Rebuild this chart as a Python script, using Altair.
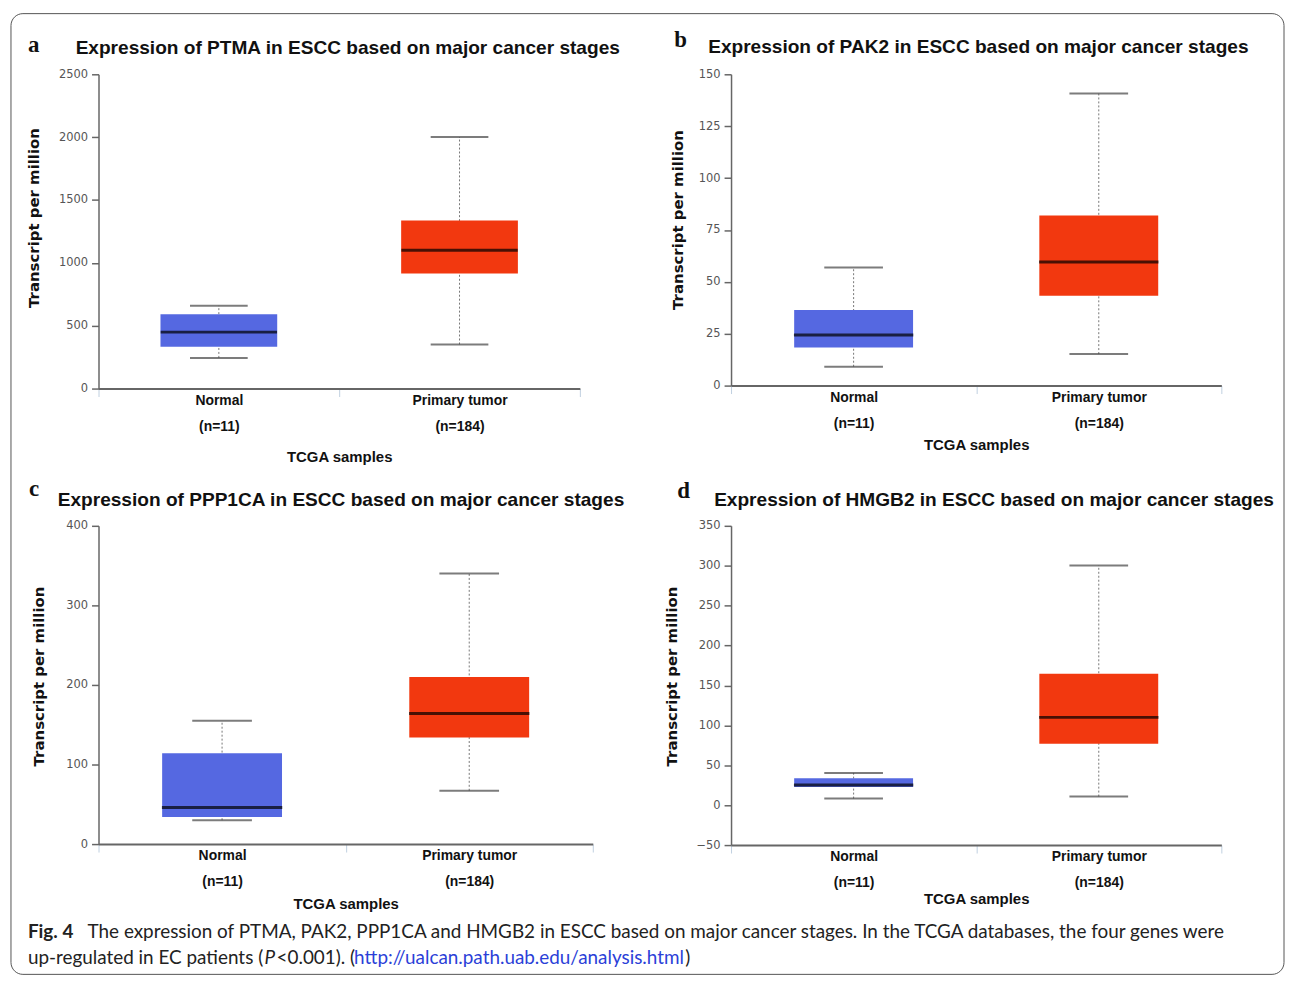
import altair as alt
import pandas as pd

# ---------------- data ----------------
genes = ["PTMA", "PAK2", "PPP1CA", "HMGB2"]
letters = ["a", "b", "c", "d"]
groups = ["Normal", "Primary tumor"]
n_samples = [11, 184]
# [lower whisker, q1, median, q3, upper whisker]
ptma_normal = [244, 333, 449, 591, 659]
ptma_tumor = [351, 916, 1100, 1336, 2001]
pak2_normal = [9.1, 18.3, 24.4, 36.4, 56.9]
pak2_tumor = [15.2, 43.3, 59.6, 81.9, 140.7]
ppp1ca_normal = [30, 34, 46, 114, 155]
ppp1ca_tumor = [67, 134, 164, 210, 340]
hmgb2_normal = [8.3, 22.9, 25.4, 33.6, 40.4]
hmgb2_tumor = [10.8, 76.9, 110, 164.5, 300.3]
y_ticks_ptma = [0, 500, 1000, 1500, 2000, 2500]
y_ticks_pak2 = [0, 25, 50, 75, 100, 125, 150]
y_ticks_ppp1ca = [0, 100, 200, 300, 400]
y_ticks_hmgb2 = [-50, 0, 50, 100, 150, 200, 250, 300, 350]

caption_line1_bold = "Fig. 4"
caption_line1 = ("The expression of PTMA, PAK2, PPP1CA and HMGB2 in ESCC based on major cancer stages. "
                 "In the TCGA databases, the four genes were")
caption_line2_a = "up-regulated in EC patients ("
caption_line2_p = "P"
caption_line2_b = "<0.001). ("
caption_link = "http://ualcan.path.uab.edu/analysis.html"
caption_end = ")"

BLUE = "#5568E1"
RED = "#F2380F"
TITLE_FONT = "Liberation Sans"
AXIS_TITLE_FONT = "DejaVu Sans"
TICK_FONT = "DejaVu Sans"
CAPTION_FONT = "Lato"

# label expression for two-line x labels
label_expr = " : ".join(
    f"datum.value == '{g}' ? ['{g}', '(n={n})']" for g, n in zip(groups, n_samples)
) + " : datum.value"


def stats_frame(normal, tumor):
    rows = []
    for g, s in zip(groups, [normal, tumor]):
        rows.append(dict(group=g, low=s[0], q1=s[1], median=s[2], q3=s[3], high=s[4]))
    return pd.DataFrame(rows)


def panel(gene, letter, normal, tumor, ticks, w, h, lay, extra=None):
    df = stats_frame(normal, tumor)
    band = w / 2.0
    box_w = round(band * 0.485)
    cap_w = round(band * 0.24)
    ydom = [ticks[0], ticks[-1]]
    x_enc = alt.X(
        "group:N",
        sort=groups,
        scale=alt.Scale(domain=groups, paddingInner=0, paddingOuter=0),
        axis=alt.Axis(
            title="TCGA samples",
            titleFont=TITLE_FONT,
            titleFontSize=15,
            titleFontWeight="bold",
            titleColor="#111",
            titleY=lay["xtitle"],
            titleBaseline="middle",
            labelExpr=label_expr,
            labelAngle=0,
            labelFont=TITLE_FONT,
            labelFontSize=14,
            labelFontWeight="bold",
            labelColor="#111",
            labelLineHeight=26,
            labelPadding=-3,
            labelBaseline="top",
            tickBand="extent",
            tickColor="#C0D0E0",
            tickSize=8,
            tickWidth=1,
            domainColor="#666",
            domainWidth=2,
        ),
    )
    y_scale = alt.Scale(domain=ydom, nice=False, zero=False)
    y_axis = alt.Axis(
        title="Transcript per million",
        titleFont=AXIS_TITLE_FONT,
        titleFontSize=15,
        titleFontWeight="bold",
        titleColor="#111",
        titleX=lay["ytitle"][0],
        titleY=lay["ytitle"][1],
        titleAngle=270,
        titleAlign="center",
        titleBaseline="middle",
        values=ticks,
        format="d",
        grid=False,
        labelFlush=False,
        labelFont=TICK_FONT,
        labelFontSize=11.5,
        labelColor="#555",
        labelPadding=4,
        tickColor="#666",
        tickSize=7,
        tickWidth=1.5,
        domainColor="#666",
        domainWidth=1.5,
    )
    base = alt.Chart(df)
    whisker = base.mark_rule(color="#777", strokeWidth=1, strokeDash=[2, 2]).encode(
        x=x_enc, y=alt.Y("low:Q", scale=y_scale, axis=y_axis), y2="high:Q"
    )
    box = base.mark_bar(width=alt.RelativeBandSize(0.485)).encode(
        x=alt.X("group:N", sort=groups),
        y=alt.Y("q1:Q"),
        y2="q3:Q",
        color=alt.Color("group:N", scale=alt.Scale(domain=groups, range=[BLUE, RED]), legend=None),
    )
    med = base.mark_tick(color="#000", thickness=3, size=box_w, orient="horizontal").encode(
        x=alt.X("group:N", sort=groups), y="median:Q"
    )
    cap_lo = base.mark_tick(color="#444", thickness=2, size=cap_w, orient="horizontal").encode(
        x=alt.X("group:N", sort=groups), y="low:Q"
    )
    cap_hi = base.mark_tick(color="#444", thickness=2, size=cap_w, orient="horizontal").encode(
        x=alt.X("group:N", sort=groups), y="high:Q"
    )
    title = alt.Chart(pd.DataFrame({"t": [f"Expression of {gene} in ESCC based on major cancer stages"]})).mark_text(
        font=TITLE_FONT, fontSize=19.2, fontWeight="bold", align="left", baseline="middle", color="#111"
    ).encode(x=alt.value(lay["title"][0]), y=alt.value(lay["title"][1]), text="t:N")
    let = alt.Chart(pd.DataFrame({"t": [letter]})).mark_text(
        font="Liberation Serif", fontSize=23, fontWeight="bold", align="left", baseline="middle", color="#111"
    ).encode(x=alt.value(lay["letter"][0]), y=alt.value(lay["letter"][1]), text="t:N")
    layers = [whisker, box, cap_lo, cap_hi, med, title, let]
    if extra:
        layers += extra
    return alt.layer(*layers).properties(width=w, height=h)


def text_layer(txt, x, y, **kw):
    return alt.Chart(pd.DataFrame({"t": [txt]})).mark_text(
        align="left", baseline="middle", **kw
    ).encode(x=alt.value(x), y=alt.value(y), text="t:N")


frame = alt.Chart(pd.DataFrame({"f": [0]})).mark_rect(
    filled=False, stroke="#555", strokeWidth=1, cornerRadius=12
).encode(x=alt.value(-88), x2=alt.value(1192), y=alt.value(-61), y2=alt.value(905))

CAP_SIZE = 19
L1, L2 = 408, 435
cap_kw = dict(font=CAPTION_FONT, fontSize=CAP_SIZE, color="#222")
caption = [
    text_layer(caption_line1_bold, -71, L1, font=CAPTION_FONT, fontSize=CAP_SIZE, fontWeight="bold", color="#222"),
    text_layer(caption_line1, -11, L1, **cap_kw),
    text_layer(caption_line2_a, -71, L2, **cap_kw),
    text_layer(caption_line2_p, 167, L2, font=CAPTION_FONT, fontSize=CAP_SIZE, fontStyle="italic", color="#222"),
    text_layer(caption_line2_b, 179, L2, **cap_kw),
    text_layer(caption_link, 257, L2, font=CAPTION_FONT, fontSize=CAP_SIZE, color="#2B3FD8"),
    text_layer(caption_end, 590, L2, **cap_kw),
]

lay_a = dict(title=(-23, -26), letter=(-71, -29), ytitle=(-65, 144), xtitle=68)
lay_b = dict(title=(-23, -27), letter=(-57, -34), ytitle=(-54, 146), xtitle=59)
lay_c = dict(title=(-41, -26), letter=(-70, -37), ytitle=(-60, 151), xtitle=60)
lay_d = dict(title=(-17, -26), letter=(-54, -35), ytitle=(-60, 151), xtitle=54)

pa = panel(genes[0], letters[0], ptma_normal, ptma_tumor, y_ticks_ptma, 484, 316, lay_a, extra=[frame])
pb = panel(genes[1], letters[1], pak2_normal, pak2_tumor, y_ticks_pak2, 493, 313, lay_b)
pc = panel(genes[2], letters[2], ppp1ca_normal, ppp1ca_tumor, y_ticks_ppp1ca, 497, 320, lay_c, extra=caption)
pd_ = panel(genes[3], letters[3], hmgb2_normal, hmgb2_tumor, y_ticks_hmgb2, 493, 321, lay_d)

chart = alt.concat(
    pa, pb, pc, pd_, columns=2, spacing={"row": 138, "column": 139}, bounds="flush"
).resolve_scale(x="independent", y="independent", color="independent").properties(
    padding={"left": 2, "top": 2, "right": 0, "bottom": 0}, background="white"
).configure_view(stroke=None)

chart.save("out.html", embed_options={"renderer": "svg", "actions": False})
